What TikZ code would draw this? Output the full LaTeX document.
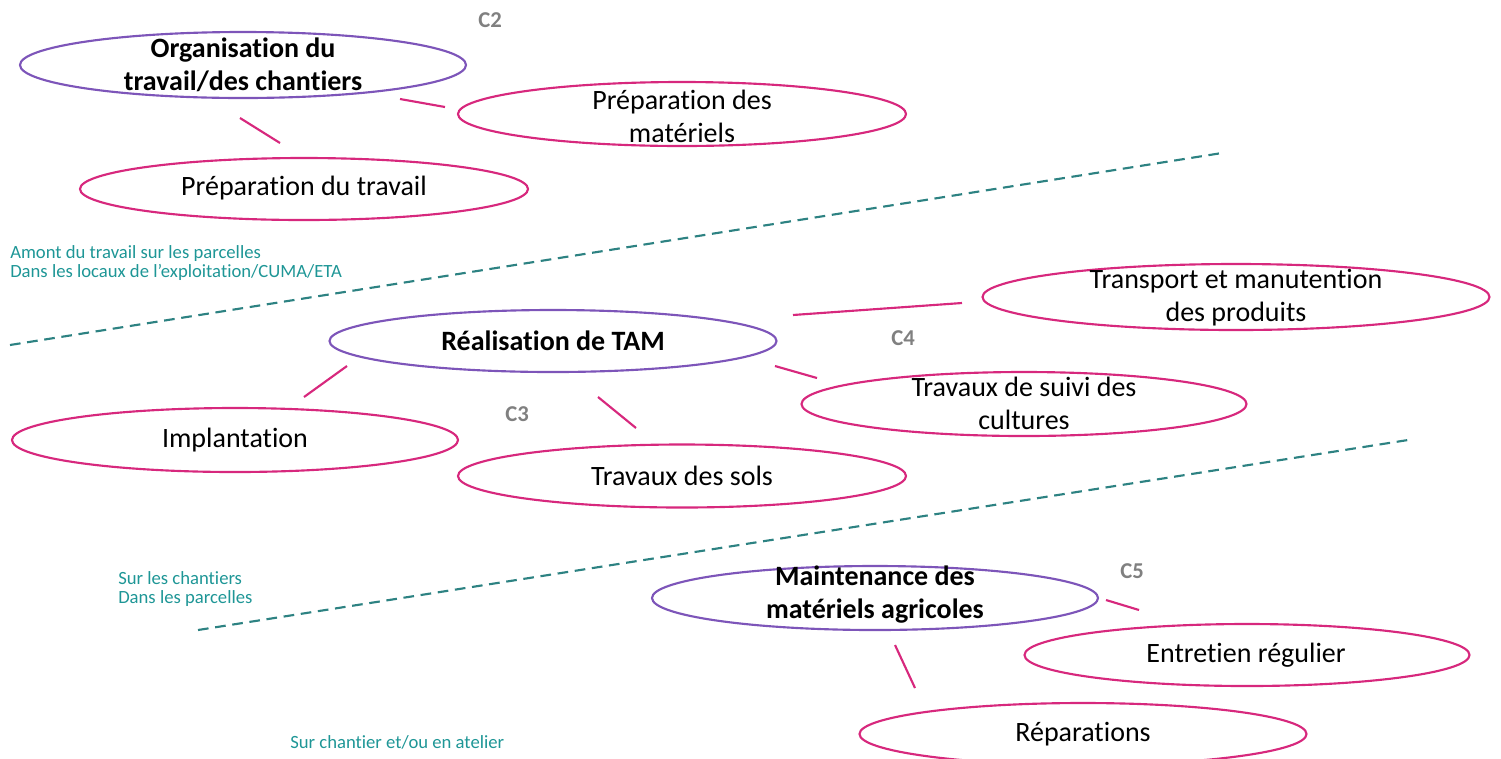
\documentclass[tikz,border=0pt]{standalone}
\usepackage{fontspec}
\setmainfont[Ligatures=NoCommon]{Carlito}
\usetikzlibrary{shapes.geometric}
\definecolor{purp}{RGB}{125,85,185}
\definecolor{pinkc}{RGB}{215,40,125}
\definecolor{tealt}{RGB}{30,150,150}
\definecolor{teald}{RGB}{45,130,130}
\definecolor{grayc}{RGB}{128,128,128}
\begin{document}
\begin{tikzpicture}[x=0.75pt,y=-0.75pt,
  sz/.style 2 args={minimum width=#1*0.75pt,minimum height=#2*0.75pt},
  oval/.style={ellipse,draw=pinkc,line width=1.6pt,inner sep=0pt},
  mainoval/.style={ellipse,draw=purp,line width=1.6pt,inner sep=0pt},
  txt/.style={align=center,font=\fontsize{21}{24.75}\selectfont,inner sep=0pt},
  btxt/.style={txt,font=\fontsize{21}{24.75}\selectfont\bfseries},
  link/.style={draw=pinkc,line width=1.6pt},
  sep/.style={draw=teald,line width=1.6pt,dash pattern=on 8pt off 5pt},
  zone/.style={text=tealt,font=\fontsize{14}{14.5}\selectfont,align=left,anchor=north west,inner sep=0pt},
  clab/.style={text=grayc,font=\fontsize{17}{20}\selectfont\bfseries,inner sep=0pt}]
\useasboundingbox (0,0) rectangle (1501,758);
% ellipses
\node[mainoval,sz={446}{66}] (org) at (243,65) {};
\node[btxt] at (243,65) {Organisation du\\travail/des chantiers};
\node[oval,sz={448}{64}] (pmat) at (682,114) {};
\node[txt] at (682,116) {Préparation des\\matériels};
\node[oval,sz={448}{62}] (ptrav) at (304,189) {};
\node[txt] at (304,188) {Préparation du travail};
\node[mainoval,sz={447}{62}] (tam) at (553,341) {};
\node[btxt] at (553,341) {Réalisation de TAM};
\node[oval,sz={507}{66}] (transp) at (1236,297) {};
\node[txt] at (1236,298) {Transport et manutention\\des produits};
\node[oval,sz={445}{64}] (suivi) at (1024,404) {};
\node[txt] at (1024,403) {Travaux de suivi des\\cultures};
\node[oval,sz={446}{64}] (impl) at (235,440) {};
\node[txt] at (235,440) {Implantation};
\node[oval,sz={448}{63}] (sols) at (682,476) {};
\node[txt] at (682,476) {Travaux des sols};
\node[mainoval,sz={446}{64}] (maint) at (875,598) {};
\node[btxt] at (875,595) {Maintenance des\\matériels agricoles};
\node[oval,sz={445}{62}] (entr) at (1247,655) {};
\node[txt] at (1246,655) {Entretien régulier};
\node[oval,sz={447}{62}] (repa) at (1083,734) {};
\node[txt] at (1083,734) {Réparations};
% connector end points
\coordinate (a1) at (400,99); \coordinate (a2) at (445,107);
\coordinate (b1) at (240,118); \coordinate (b2) at (280,143);
\coordinate (c1) at (793,315); \coordinate (c2) at (962,303);
\coordinate (d1) at (775,366); \coordinate (d2) at (817,378);
\coordinate (e1) at (347,366); \coordinate (e2) at (304,397);
\coordinate (f1) at (598,397); \coordinate (f2) at (636,428);
\coordinate (g1) at (1106,600); \coordinate (g2) at (1139,610);
\coordinate (h1) at (895,645); \coordinate (h2) at (915,688);
\draw[link] (a1) -- (a2);
\draw[link] (b1) -- (b2);
\draw[link] (c1) -- (c2);
\draw[link] (d1) -- (d2);
\draw[link] (e1) -- (e2);
\draw[link] (f1) -- (f2);
\draw[link] (g1) -- (g2);
\draw[link] (h1) -- (h2);
% separators
\coordinate (s1a) at (10,345); \coordinate (s1b) at (1222,153);
\coordinate (s2a) at (198,630); \coordinate (s2b) at (1408,440);
\draw[sep] (s1a) -- (s1b);
\draw[sep] (s2a) -- (s2b);
% zone labels
\node[zone] (z1) at (10,245) {Amont du travail sur les parcelles\\Dans les locaux de l'exploitation/CUMA/ETA};
\node[zone] (z2) at (118,571) {Sur les chantiers\\Dans les parcelles};
\node[zone] (z3) at (290,735) {Sur chantier et/ou en atelier};
% C labels
\node[clab] (k2) at (490,20) {C2};
\node[clab] (k4) at (903,338) {C4};
\node[clab] (k3) at (517,414) {C3};
\node[clab] (k5) at (1132,571) {C5};
\end{tikzpicture}
\end{document}
